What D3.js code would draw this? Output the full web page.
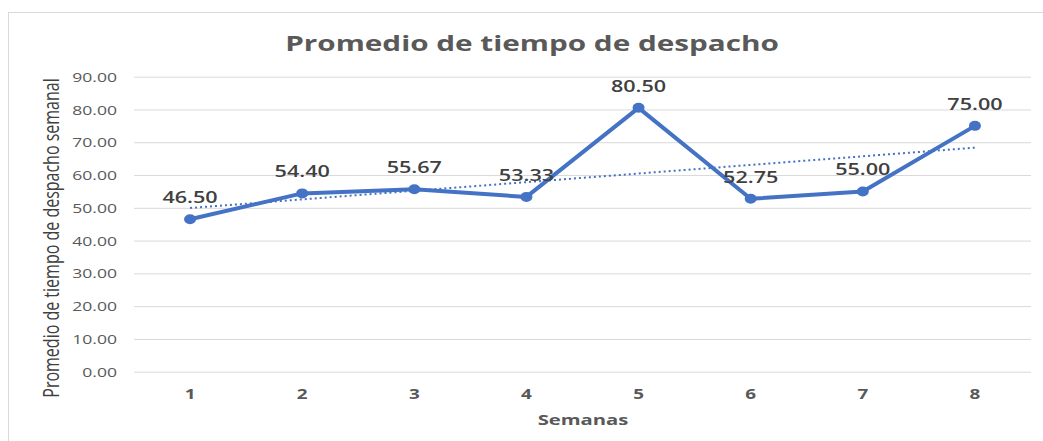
<!DOCTYPE html>
<html><head><meta charset="utf-8">
<script src="https://cdn.jsdelivr.net/npm/d3@7"></script>
<style>body{margin:0;background:#fff}svg{display:block}</style>
</head><body>
<svg id="chart" width="1043" height="441"></svg>
<script>
const weeks = ["1","2","3","4","5","6","7","8"];
const values = [46.50, 54.40, 55.67, 53.33, 80.50, 52.75, 55.00, 75.00];
const yTicks = [0,10,20,30,40,50,60,70,80,90];
const title = "Promedio de tiempo de despacho";
const xTitle = "Semanas";
const yTitle = "Promedio de tiempo de despacho semanal";

const SX = 1.35;
const font = "'Open Sans', 'DejaVu Sans', sans-serif";
const svg = d3.select("#chart");
const L = 134, R = 1031, T = 76.7, B = 371.7;

svg.append("rect").attr("x",8.5).attr("y",12.5).attr("width",1100).attr("height",500)
  .attr("fill","#fff").attr("stroke","#d9d9d9").attr("stroke-width",1);

const x = d3.scaleBand().domain(weeks).range([L, R]);
const cx = d => x(d) + x.bandwidth()/2;
const y = d3.scaleLinear().domain([0, 90]).range([B, T]);

// gridlines
svg.append("g").attr("transform",`translate(${L},0)`)
  .call(d3.axisLeft(y).tickValues(yTicks).tickSize(-(R-L)).tickFormat(""))
  .call(g=>g.select(".domain").remove())
  .call(g=>g.selectAll("line").attr("stroke","#d9d9d9").attr("stroke-width",1));

// y tick labels
svg.append("g").attr("transform",`translate(${L},0)`)
  .call(d3.axisLeft(y).tickValues(yTicks).tickSize(0).tickPadding(0).tickFormat(d3.format(".2f")))
  .call(g=>g.select(".domain").remove())
  .call(g=>g.selectAll("text").attr("x",-17/SX).attr("dy","0.35em").attr("transform",`scale(${SX},1)`)
    .attr("fill","#595959").style("font-family",font).style("font-size","13px"));

// x tick labels
svg.append("g").attr("transform",`translate(0,${B})`)
  .call(d3.axisBottom(x).tickSize(0).tickPadding(0))
  .call(g=>g.select(".domain").remove())
  .call(g=>g.selectAll(".tick text").attr("y",0).attr("dy",0)
    .attr("transform",`translate(0,27) scale(${SX},1)`)
    .attr("fill","#595959").style("font-family",font).style("font-size","14px").style("font-weight","bold"));

function htext(px, py, txt, size, weight, color){
  return svg.append("text").attr("transform",`translate(${px},${py}) scale(${SX},1)`)
    .attr("text-anchor","middle").attr("fill",color)
    .style("font-family",font).style("font-size",size+"px").style("font-weight",weight).text(txt);
}

htext(532, 51, title, 22, "bold", "#595959");
htext(583, 425, xTitle, 15, "bold", "#595959");

svg.append("text").attr("transform",`translate(51,238) rotate(-90) scale(1,${SX})`)
  .attr("text-anchor","middle").attr("dy","0.35em").attr("fill","#404040")
  .style("font-family",font).style("font-size","16px").text(yTitle);

// trendline (least squares)
const xs = weeks.map((d,i)=>i+1);
const mx = d3.mean(xs), my = d3.mean(values);
const slope = d3.sum(xs.map((xv,i)=>(xv-mx)*(values[i]-my))) / d3.sum(xs.map(xv=>(xv-mx)**2));
const icpt = my - slope*mx;
const trend = [weeks[0], weeks[weeks.length-1]].map(w=>({w, v: icpt + slope*(+w)}));
svg.append("path").datum(trend)
  .attr("d", d3.line().x(d=>cx(d.w)).y(d=>y(d.v)))
  .attr("fill","none").attr("stroke","#4472C4").attr("stroke-width",2).attr("stroke-dasharray","2,3");

// series line
const data = weeks.map((w,i)=>({w, v: values[i]}));
svg.append("path").datum(data)
  .attr("d", d3.line().x(d=>cx(d.w)).y(d=>y(d.v)))
  .attr("fill","none").attr("stroke","#4472C4").attr("stroke-width",4).attr("stroke-linejoin","round");
svg.append("g").selectAll("ellipse").data(data).join("ellipse")
  .attr("cx",d=>cx(d.w)).attr("cy",d=>y(d.v)).attr("rx",6).attr("ry",5).attr("fill","#4472C4");

// data labels
data.forEach(d=>{
  htext(cx(d.w), y(d.v)-16, d3.format(".2f")(d.v), 16, 600, "#404040");
});
</script>
</body></html>
